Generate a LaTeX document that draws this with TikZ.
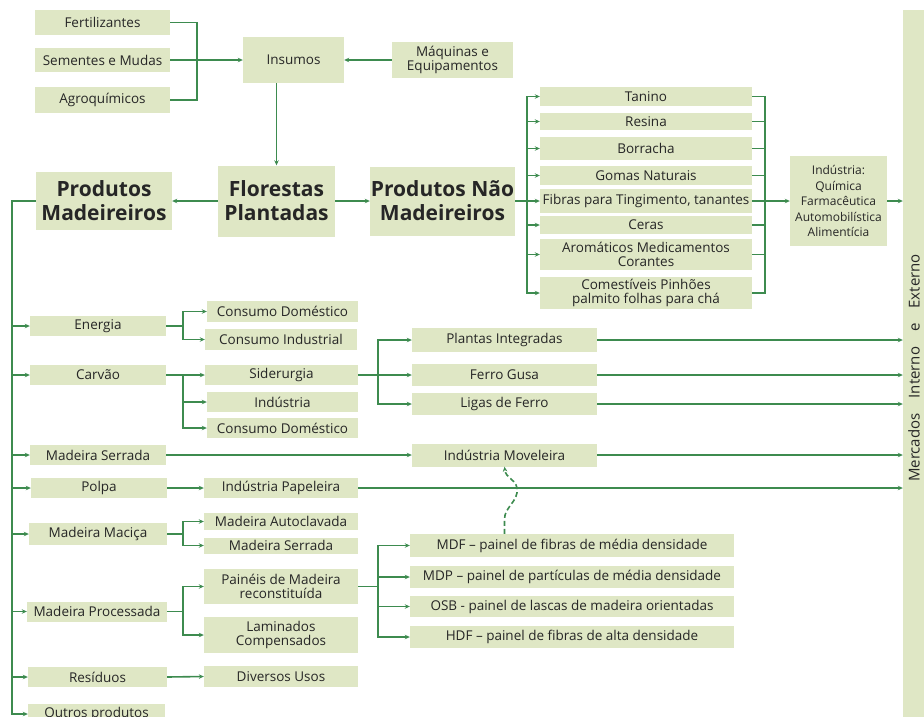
\documentclass[tikz,border=0pt]{standalone}
\usepackage{fontspec}
\setmainfont{Open Sans}
\usetikzlibrary{arrows.meta}
\definecolor{boxfill}{HTML}{DFE7C5}
\definecolor{linegreen}{HTML}{3D8B4F}
\definecolor{txt}{HTML}{262626}
\begin{document}
\begin{tikzpicture}[x=1pt,y=-1pt,
  box/.style={fill=boxfill, inner sep=0pt, align=center, text=txt, font=\fontsize{13.5}{14}\selectfont},
  big/.style={box, font=\bfseries\fontsize{21}{24}\selectfont},
  small/.style={box, font=\fontsize{12}{15.5}\selectfont},
  conn/.style={draw=linegreen, line width=1.6pt},
  arr/.style={conn, -{Stealth[length=5pt,width=4.5pt]}},
  dasharr/.style={conn, dash pattern=on 5pt off 3pt, -{Stealth[length=5pt,width=4.5pt]}},
]
\useasboundingbox (0,0) rectangle (924,716);

% top inputs
\node[box,minimum width=135,minimum height=25] (fert) at (102.5,22.5) {Fertilizantes};
\node[box,minimum width=135,minimum height=24] (sem) at (102.5,60) {Sementes e Mudas};
\node[box,minimum width=135,minimum height=26] (agro) at (102.5,100) {Agroquímicos};
\node[box,minimum width=101,minimum height=46] (ins) at (293.5,60) {Insumos};
\node[box,minimum width=121,minimum height=36] (maq) at (452.5,60) {Máquinas e\\Equipamentos};
\coordinate (j1) at (197,60);

% main row
\node[big,minimum width=117,minimum height=71] (flor) at (276.5,201) {Florestas\\Plantadas};
\node[big,minimum width=136,minimum height=58] (pm) at (104,201) {Produtos\\Madeireiros};
\node[big,minimum width=145,minimum height=69] (pnm) at (442.5,201) {Produtos Não\\Madeireiros};

% non-wood products
\node[box,minimum width=212,minimum height=19] (tanino) at (646,96.5) {Tanino};
\node[box,minimum width=212,minimum height=17] (resina) at (646,121.5) {Resina};
\node[box,minimum width=212,minimum height=23] (borracha) at (646,148.5) {Borracha};
\node[box,minimum width=212,minimum height=19] (gomas) at (646,175.5) {Gomas Naturais};
\node[box,minimum width=212,minimum height=24] (fibras) at (646,201) {Fibras para Tingimento, tanantes};
\node[box,minimum width=212,minimum height=18] (ceras) at (646,225) {Ceras};
\node[box,minimum width=212,minimum height=31] (arom) at (646,254.5) {Aromáticos Medicamentos\\Corantes};
\node[box,minimum width=212,minimum height=32] (comest) at (646,293) {Comestíveis Pinhões\\palmito folhas para chá};
\coordinate (nb) at (527,201);
\coordinate (rb) at (765,201);
\node[small,minimum width=97,minimum height=90] (ind) at (838.5,201) {Indústria:\\Química\\Farmacêutica\\Automobilística\\Alimentícia};

% market bar
\node[fill=boxfill,inner sep=0pt,minimum width=21,minimum height=710] (bar) at (913.5,365) {};
\node[rotate=90,text=txt,font=\fontsize{15}{16}\selectfont,inner sep=0pt] (mtxt) at (914,368) {Mercados\hspace{15pt}Interno\hspace{15pt}e\hspace{15pt}Externo};

% left column
\coordinate (lb) at (12,201);
\node[box,minimum width=136,minimum height=20] (energia) at (98,326) {Energia};
\node[box,minimum width=136,minimum height=20] (carvao) at (98,375) {Carvão};
\node[box,minimum width=136,minimum height=20] (mserr) at (98,455) {Madeira Serrada};
\node[box,minimum width=136,minimum height=20] (polpa) at (99,488) {Polpa};
\node[box,minimum width=138,minimum height=22] (mmac) at (98,534) {Madeira Maciça};
\node[box,minimum width=140,minimum height=20] (mproc) at (97,611.5) {Madeira Processada};
\node[box,minimum width=139,minimum height=20] (resid) at (97.5,677) {Resíduos};
\node[box,minimum width=137,minimum height=20] (outros) at (96.5,714) {Outros produtos};

% second column
\coordinate (b1) at (183,0);
\node[box,minimum width=151,minimum height=21] (cd1) at (282.5,311.5) {Consumo Doméstico};
\node[box,minimum width=152,minimum height=21] (ci) at (281,339.5) {Consumo Industrial};
\node[box,minimum width=153,minimum height=20] (sid) at (281.5,375) {Siderurgia};
\node[box,minimum width=151,minimum height=20] (indu) at (282.5,402) {Indústria};
\node[box,minimum width=151,minimum height=20] (cd2) at (282.5,428) {Consumo Doméstico};
\node[box,minimum width=154,minimum height=20] (ipap) at (281,488) {Indústria Papeleira};
\node[box,minimum width=154,minimum height=17] (maut) at (281,521.5) {Madeira Autoclavada};
\node[box,minimum width=154,minimum height=16] (mser2) at (281,545.5) {Madeira Serrada};
\node[box,minimum width=154,minimum height=35] (painel) at (281,586.5) {Painéis de Madeira\\reconstituída};
\node[box,minimum width=154,minimum height=36] (lamin) at (281,635) {Laminados\\Compensados};
\node[box,minimum width=154,minimum height=21] (div) at (281,676.5) {Diversos Usos};

% third column
\coordinate (b2) at (378,0);
\node[box,minimum width=185,minimum height=24] (plantas) at (504.5,340) {Plantas Integradas};
\node[box,minimum width=185,minimum height=22] (ferro) at (504.5,375) {Ferro Gusa};
\node[box,minimum width=185,minimum height=22] (ligas) at (504.5,404) {Ligas de Ferro};
\node[box,minimum width=185,minimum height=23] (imov) at (504.5,455) {Indústria Moveleira};
\node[box,minimum width=324,minimum height=23] (mdf) at (572,545.5) {MDF – painel de fibras de média densidade};
\node[box,minimum width=324,minimum height=22] (mdp) at (572,577) {MDP – painel de partículas de média densidade};
\node[box,minimum width=324,minimum height=21] (osb) at (572,606.5) {OSB - painel de lascas de madeira orientadas};
\node[box,minimum width=324,minimum height=22] (hdf) at (572,637) {HDF – painel de fibras de alta densidade};

% ---- connectors ----
\draw[conn] (fert.east) -| (j1);
\draw[conn] (agro.east) -| (j1);
\draw[arr] (sem.east) -- (ins.west);
\draw[arr] (maq.west) -- (ins.east);
\draw[arr] (ins.south -| flor.north) -- (flor.north);
\draw[arr] (flor.west) -- (pm.east);
\draw[arr] (flor.east) -- (pnm.west);

% non-wood buses
\draw[conn] (pnm.east) -- (nb);
\draw[arr] (nb) |- (tanino.west);
\draw[arr] (nb) |- (comest.west);
\foreach \n in {resina,borracha,gomas,fibras,ceras,arom}
  \draw[arr] (nb |- \n.west) -- (\n.west);
\draw[conn] (tanino.east) -| (rb);
\draw[conn] (comest.east) -| (rb);
\foreach \n in {resina,borracha,gomas,ceras,arom}
  \draw[conn] (\n.east) -- (\n.east -| rb);
\draw[arr] (fibras.east) -- (ind.west);
\draw[arr] (ind.east) -- (ind.east -| bar.west);

% left bus
\draw[arr] (pm.west) -- (lb) |- (outros.west);
\foreach \n in {energia,carvao,mserr,polpa,mmac,mproc,resid}
  \draw[arr] (lb |- \n.west) -- (\n.west);

% energia
\draw[conn] (energia.east) -- (energia.east -| b1);
\draw[arr] (energia.east -| b1) |- (cd1.west);
\draw[arr] (energia.east -| b1) |- (ci.west);
% carvao
\draw[arr] (carvao.east) -- (sid.west);
\draw[arr] (carvao.east -| b1) |- (indu.west);
\draw[arr] (carvao.east -| b1) |- (cd2.west);
% siderurgia
\draw[conn] (sid.east) -- (sid.east -| b2);
\draw[arr] (sid.east -| b2) |- (plantas.west);
\draw[arr] (sid.east -| b2) -- (ferro.west);
\draw[arr] (sid.east -| b2) |- (ligas.west);
% madeira serrada, polpa
\draw[arr] (mserr.east) -- (imov.west);
\draw[arr] (polpa.east) -- (ipap.west);
% to market
\foreach \n in {plantas,ferro,ligas,imov,ipap}
  \draw[arr] (\n.east) -- (\n.east -| bar.west);
% madeira macica
\draw[conn] (mmac.east) -- (mmac.east -| b1);
\draw[arr] (mmac.east -| b1) |- (maut.west);
\draw[arr] (mmac.east -| b1) |- (mser2.west);
% madeira processada
\draw[conn] (mproc.east) -- (mproc.east -| b1);
\draw[arr] (mproc.east -| b1) |- (painel.west);
\draw[arr] (mproc.east -| b1) |- (lamin.west);
% paineis
\draw[conn] (painel.east) -- (painel.east -| b2);
\draw[arr] (painel.east -| b2) |- (mdf.west);
\draw[arr] (painel.east -| b2) |- (mdp.west);
\draw[arr] (painel.east -| b2) |- (osb.west);
\draw[arr] (painel.east -| b2) |- (hdf.west);
% residuos
\draw[arr] (resid.east) -- (div.west);
% dashed link MDF -> Moveleira
\draw[dasharr] (mdf.north -| imov.south) -- (504.5,519) .. controls (504.5,507) and (519,501) .. (517,488) .. controls (515,478) and (506,479) .. (imov.south);
\end{tikzpicture}
\end{document}
